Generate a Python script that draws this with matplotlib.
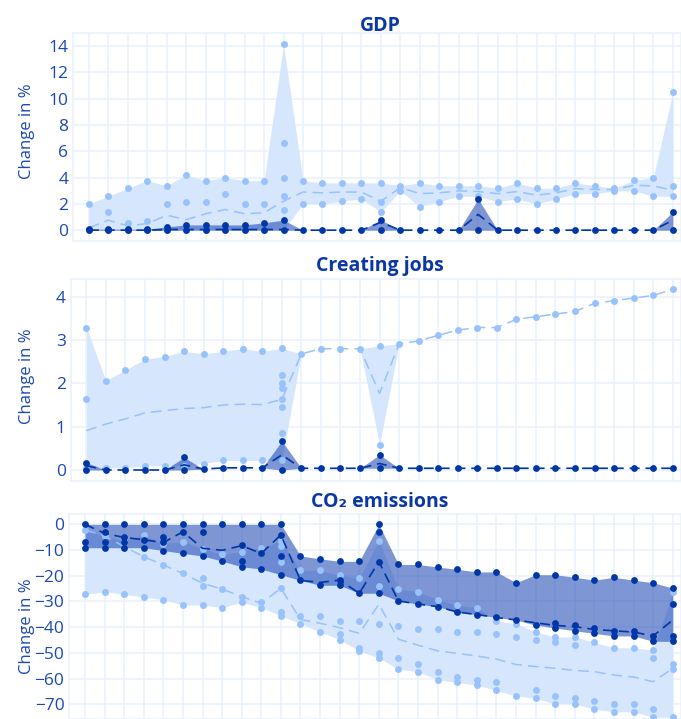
import numpy as np
import matplotlib.pyplot as plt

plt.rcParams['font.family'] = ['Open Sans', 'DejaVu Sans']

x = np.arange(31)

# GDP panel
gdp_light_dots = [
    [2.0, 0], [2.58, 1.37, 0], [3.19, 0.56, 0], [3.77, 0.73, 0], [3.39, 2.0, 0],
    [4.2, 2.18, 0], [3.77, 2.18, 0], [4.0, 2.78, 0], [3.77, 2.0, 0], [3.77, 2.0, 0],
    [14.13, 6.63, 4.0, 2.58, 1.57, 0], [3.77, 2.0], [3.6, 2.0], [3.6, 2.2], [3.6, 2.38],
    [3.6, 2.18, 1.39], [3.39, 2.99], [3.6, 1.8], [3.39, 2.18], [3.39, 2.58],
    [3.39, 2.58], [3.19, 2.18], [3.6, 2.38], [3.19, 2.0], [3.19, 2.38],
    [3.6, 2.78], [3.39, 2.78], [3.19, 2.99], [3.8, 2.99], [4.0, 2.58],
    [10.5, 3.39, 2.58],
]
gdp_light_mid = [0.18, 0.76, 0.33, 0.5, 1.14, 0.8, 1.25, 1.57, 1.25, 1.33, 2.2,
                 2.9, 2.84, 2.9, 2.9, 2.2, 3.24, 2.78, 2.84, 2.99, 2.94, 2.78,
                 2.94, 2.66, 2.84, 3.16, 3.09, 3.09, 3.42, 3.37, 3.04]
gdp_dark_dots = [
    [0.08, 0], [0.08, 0], [0.08, 0], [0.08, 0], [0.25, 0], [0.4, 0], [0.4, 0],
    [0.4, 0], [0.4, 0], [0.56, 0], [0.76, 0], [0], [0], [0], [0], [0.78, 0],
    [0], [0], [0], [0], [2.38, 0], [0], [0], [0], [0], [0], [0], [0], [0], [0],
    [1.39, 0],
]
gdp_dark_mid = [0, 0, 0, 0, 0.05, 0.05, 0.05, 0.05, 0.05, 0.05, 0.05, 0, 0, 0, 0,
                0.6, 0, 0, 0, 0, 1.2, 0, 0, 0, 0, 0, 0, 0, 0, 0, 0.76]

# Creating jobs panel
jobs_light_dots = [
    [3.29, 1.63, 0.05], [2.06, 0.05], [2.31, 0.05], [2.56, 0.1], [2.62, 0.1],
    [2.74, 0.1], [2.68, 0.15], [2.74, 0.22], [2.8, 0.22], [2.74, 0.22],
    [2.81, 2.19, 2.0, 1.9, 1.65, 1.46, 0.85, 0.23], [2.68], [2.8], [2.8], [2.8],
    [2.87, 0.58], [2.91], [2.98], [3.11], [3.23], [3.29], [3.29], [3.48],
    [3.54], [3.6], [3.66], [3.85], [3.91], [3.97], [4.03], [4.17],
]
jobs_light_mid = [0.91, 1.06, 1.18, 1.32, 1.37, 1.42, 1.44, 1.5, 1.52, 1.51, 1.63,
                  2.68, 2.8, 2.8, 2.8, 1.77, 2.91, 2.98, 3.11, 3.23, 3.29, 3.29,
                  3.48, 3.54, 3.6, 3.66, 3.85, 3.91, 3.97, 4.03, 4.17]
jobs_dark_dots = [
    [0.17, 0.0], [0.0], [0.0], [0.0], [0.0], [0.29, 0.0], [0.02], [0.05], [0.05],
    [0.05], [0.67, 0.0], [0.04], [0.04], [0.04], [0.04], [0.35, 0.04], [0.04],
    [0.04], [0.04], [0.04], [0.04], [0.04], [0.04], [0.04], [0.04], [0.04],
    [0.04], [0.04], [0.04], [0.04], [0.04],
]
jobs_dark_mid = [0.1, 0.0, 0.0, 0.0, 0.0, 0.12, 0.02, 0.05, 0.05, 0.05, 0.35, 0.04,
                 0.04, 0.04, 0.04, 0.15, 0.04, 0.04, 0.04, 0.04, 0.04, 0.04, 0.04,
                 0.04, 0.04, 0.04, 0.04, 0.04, 0.04, 0.04, 0.04]

# CO2 emissions panel
co2_light_dots = [
    [-2.2, -27.2], [-4.5, -26.2], [-6.5, -27.2], [-4.1, -12.6, -28.3],
    [-7.5, -15.8, -29.3], [-6.7, -19.1, -31.4], [-9.5, -21.0, -24.1, -31.4],
    [-11.7, -25.2, -32.4], [-10.6, -28.3, -30.3], [-9.3, -30.3, -32.4],
    [-6.4, -8.6, -14.8, -24.9, -34.2, -35.5], [-17.9, -35.5, -38.7],
    [-17.9, -35.5, -41.8], [-19.8, -37.6, -42.8, -44.9], [-21.0, -37.6, -48.0, -49.2],
    [-6.4, -24.1, -38.7, -50.0, -52.0], [-25.2, -39.7, -52.0, -56.3],
    [-26.2, -40.7, -54.2, -57.3], [-29.3, -40.7, -57.3, -60.4],
    [-31.4, -41.8, -59.4, -61.5], [-32.4, -41.8, -60.4, -62.5],
    [-37.5, -42.8, -61.5, -64.6], [-38.7, -43.8, -66.7],
    [-41.8, -44.9, -64.6, -67.7], [-43.8, -45.9, -66.7, -69.8],
    [-43.8, -46.9, -67.7, -69.8], [-45.9, -68.7, -71.9], [-48.0, -69.8, -72.9],
    [-48.0, -69.8, -72.9], [-49.0, -52.1, -71.9, -75.0], [-26.2, -54.2, -56.3, -75.0],
]
co2_light_mid = [-2.2, -4.5, -8.7, -12.6, -15.8, -19.1, -22.9, -25.2, -28.1, -30.7,
                 -24.9, -37.0, -38.5, -40.2, -42.4, -31.1, -44.7, -47.0, -49.2,
                 -50.2, -51.2, -52.4, -54.5, -55.3, -56.0, -56.8, -57.3, -58.6,
                 -59.4, -61.2, -56.0]
co2_dark_dots = [
    [0, -7.0, -9.1], [0, -3.1, -7.0, -9.1], [0, -5.1, -7.0, -9.1], [0, -6.0, -9.1],
    [0, -5.1, -7.0, -10.2], [0, -3.1, -11.3], [0, -3.1, -12.3], [0, -14.3],
    [0, -8.0, -14.3, -16.5], [0, -11.3, -17.4], [0, -4.1, -12.3, -19.6],
    [-12.3, -21.8], [-13.4, -23.7], [-14.4, -21.7, -23.7], [-14.4, -26.8],
    [0, -3.1, -14.5, -26.8], [-15.6, -29.8], [-15.6, -31.0], [-16.6, -32.0],
    [-17.5, -34.1], [-18.5, -35.1], [-18.5, -36.2], [-22.7, -37.2], [-19.6, -39.2],
    [-19.6, -38.3, -40.3], [-20.6, -39.3, -41.4], [-21.7, -40.3, -42.4],
    [-20.6, -41.4, -43.4], [-21.7, -41.4, -43.4], [-22.7, -43.4, -45.5],
    [-24.8, -31.0, -43.4, -45.5],
]
co2_dark_mid = [0, -3.5, -5.1, -6.0, -7.1, -2.9, -9.3, -10.1, -8.3, -11.3, -4.1,
                -21.8, -22.6, -21.7, -26.8, -14.5, -29.8, -31.0, -32.0, -34.1,
                -35.1, -36.2, -37.2, -38.3, -39.3, -39.8, -40.9, -41.4, -41.9,
                -43.4, -37.2]

LIGHT = '#98c2fb'
LIGHT_FILL = '#d6e6fc'
DARK = '#0036a6'
DARK_FILL = (0.0, 0.185, 0.68, 0.5)
GRID = '#e9f1fd'
TICK_COLOR = '#1a49b5'
TITLE_COLOR = '#0a37a3'
W, H = 681, 719


def band(ax, dots, fill_color, z):
    lo = [min(v) for v in dots]
    hi = [max(v) for v in dots]
    ax.fill_between(x, lo, hi, color=fill_color, lw=0, zorder=z)
    xs = [i for i, v in enumerate(dots) for _ in v]
    ys = [y for v in dots for y in v]
    return xs, ys


def draw_panel(ax, light_dots, light_mid, dark_dots, dark_mid, ylim, yticks):
    lx, ly = band(ax, light_dots, LIGHT_FILL, 1)
    dx, dy = band(ax, dark_dots, DARK_FILL, 2)
    ax.plot(x, light_mid, color=LIGHT, lw=1.1, ls=(0, (7, 4)), zorder=3)
    ax.plot(lx, ly, 'o', color=LIGHT, ms=5.0, mew=0, zorder=4)
    ax.plot(x, dark_mid, color=DARK, lw=1.2, ls=(0, (6, 3.5)), zorder=5)
    ax.plot(dx, dy, 'o', color=DARK, ms=4.9, mew=0, zorder=6)
    ax.set_xlim(-0.8, 30.42)
    ax.set_ylim(*ylim)
    ax.set_xticks(x)
    ax.set_xticklabels([])
    ax.set_yticks(yticks)
    ax.grid(True, color=GRID, lw=1.1)
    ax.set_axisbelow(True)
    ax.tick_params(length=0, pad=3.5, labelsize=12.5, labelcolor=TICK_COLOR)
    for s in ax.spines.values():
        s.set_color(GRID)
        s.set_linewidth(1.1)


fig = plt.figure(figsize=(W / 100, H / 100), dpi=100)

ax1 = fig.add_axes([73.3 / W, 1 - 240.7 / H, (W - 73.3) / W, 207.7 / H])
draw_panel(ax1, gdp_light_dots, gdp_light_mid, gdp_dark_dots, gdp_dark_mid,
           (-0.8, 15.0), range(0, 15, 2))

ax2 = fig.add_axes([70.7 / W, 1 - 480.7 / H, (W - 70.7) / W, 201.7 / H])
draw_panel(ax2, jobs_light_dots, jobs_light_mid, jobs_dark_dots, jobs_dark_mid,
           (-0.247, 4.41), range(0, 5))

ax3 = fig.add_axes([69.3 / W, 0, (W - 69.3) / W, (H - 514.3) / H])
draw_panel(ax3, co2_light_dots, co2_light_mid, co2_dark_dots, co2_dark_mid,
           (-75.7, 3.9), range(-70, 1, 10))

titles = [('GDP', 380, 30.7), ('Creating jobs', 379.5, 270.7), ('CO₂ emissions', 380, 506.7)]
for text, tx, ty in titles:
    fig.text(tx / W, 1 - ty / H, text, ha='center', va='baseline', fontsize=14,
             fontweight='bold', color=TITLE_COLOR)

for ly in [131, 376, 626.5]:
    fig.text(27 / W, 1 - ly / H, 'Change in %', rotation=90, ha='center', va='center',
             fontsize=12, color=TICK_COLOR)

fig.savefig('out.png', dpi=100)
